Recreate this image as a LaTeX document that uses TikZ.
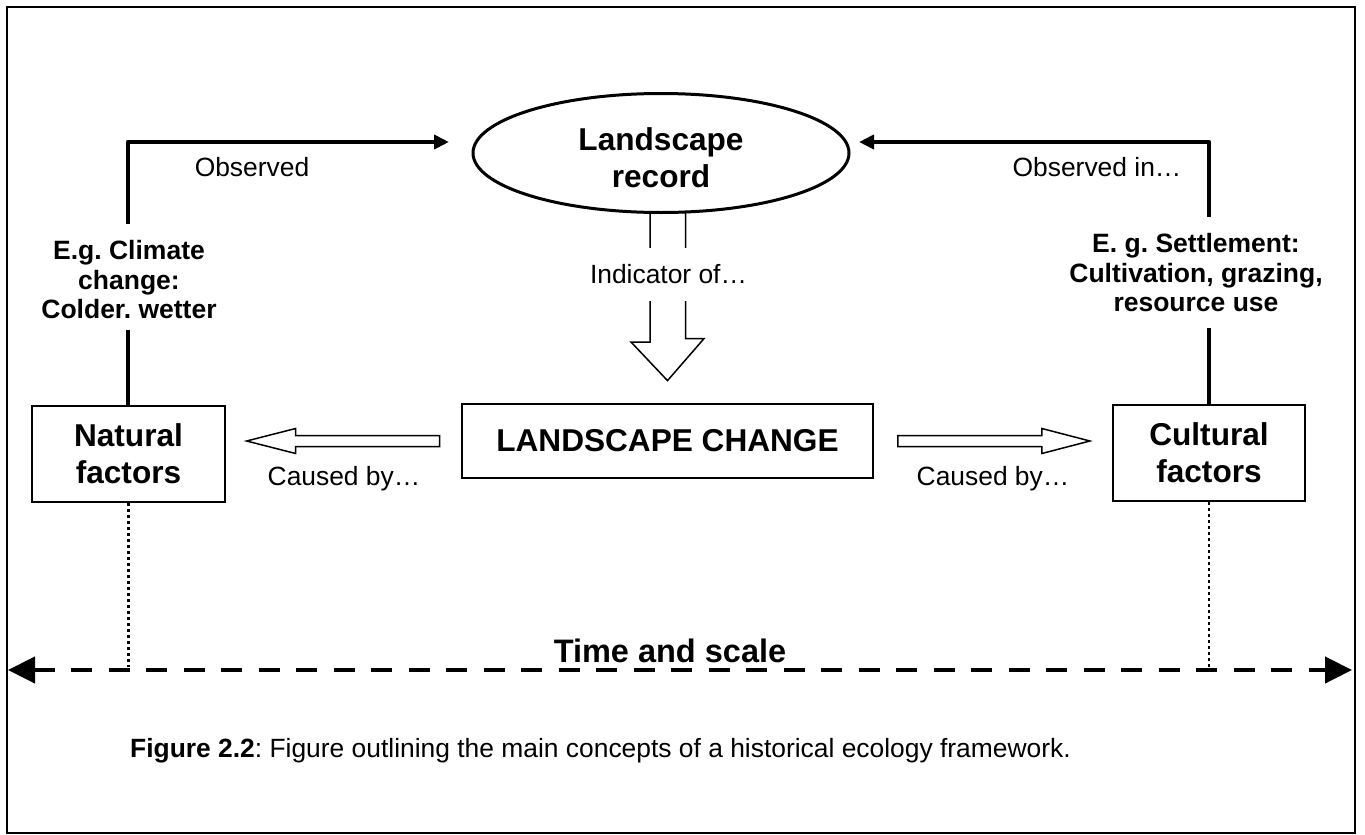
\documentclass[tikz,border=0pt]{standalone}
\usepackage{fontspec}
\setmainfont{Liberation Sans}
\usetikzlibrary{arrows.meta,shapes.geometric,calc}
\frenchspacing

% font sizes (1pt = 1 output pixel)
\newcommand\nodefont{\fontsize{31.6}{37}\selectfont\bfseries}
\newcommand\labelfont{\fontsize{26.4}{30}\selectfont}
\newcommand\examplefont{\fontsize{26.5}{29.5}\selectfont\bfseries}
\newcommand\captionfont{\fontsize{26.4}{30}\selectfont}

\begin{document}
\begin{tikzpicture}[x=1pt,y=-1pt,
  framebox/.style={draw=black,line width=2pt},
  conceptbox/.style={draw=black,line width=2pt,rectangle,inner sep=0pt,
    align=center,font=\nodefont},
  recordnode/.style={draw=black,line width=3pt,ellipse,inner sep=0pt,
    minimum width=376pt,minimum height=119pt},
  plainlabel/.style={inner sep=0pt,font=\labelfont},
  examplelabel/.style={inner sep=0pt,align=center,font=\examplefont},
  heavyline/.style={line width=4.5pt,line join=round},
  heavyarrow/.style={heavyline,-{Triangle[length=15pt,width=14pt]}},
  blockarrow/.style={draw=black,line width=1.5pt,line join=miter},
  dotline/.style={line width=2.5pt,dash pattern=on 3pt off 3pt},
  timeline/.style={line width=4.5pt,dash pattern=on 21pt off 16.5pt,
    {Triangle[length=27pt,width=26pt]}-{Triangle[length=27pt,width=26pt]}},
]
\useasboundingbox (0,0) rectangle (1365,835);

% outer frame
\draw[framebox] (7,7) rectangle (1355,833);

% main concept nodes
\node[recordnode] (rec) at (661,153) {};
\node[inner sep=0pt,align=center,font=\nodefont] (rectxt) at (661,158)
  {Landscape\\record};
\node[conceptbox,minimum width=411pt,minimum height=74pt,line width=2.8pt]
  (lc) at (667.5,441) {LANDSCAPE CHANGE};
\node[conceptbox,minimum width=193pt,minimum height=96pt]
  (nat) at (128.5,454) {Natural\\factors};
\node[conceptbox,minimum width=192pt,minimum height=96pt]
  (cul) at (1209,453) {Cultural\\factors};

% example texts on the side connectors
\node[examplelabel] (exL) at (129,280) {E.g. Climate\\change:\\Colder. wetter};
\node[examplelabel] (exR) at (1196,273) {E. g. Settlement:\\Cultivation, grazing,\\resource use};

% free ends of the observation connectors and gaps around the example texts
\coordinate (obsL) at (449,142);
\coordinate (obsR) at (859,142);
\coordinate (gapLtop) at (128,224);
\coordinate (gapLbot) at (128,330);
\coordinate (gapRtop) at (1209,217);
\coordinate (gapRbot) at (1209,328);

% natural factors -> landscape record
\draw[heavyline] (nat.north -| gapLbot) -- (gapLbot);
\draw[heavyarrow] (gapLtop) |- (obsL);
\node[plainlabel] (obsLtxt) at (252,167) {Observed};

% cultural factors -> landscape record
\draw[heavyline] (cul.north) -- (gapRbot);
\draw[heavyarrow] (gapRtop) |- (obsR);
\node[plainlabel] (obsRtxt) at (1097,167) {Observed in…};

% landscape record indicates landscape change
\draw[blockarrow]
  ($(rec.south -| lc.north)+(-17.5,0)$) -- ++(0,128) -- ++(-19,0)
  -- ($(lc.north)+(0,-22)$) -- ++(36.5,-42) -- ++(-18.5,0) -- ++(0,-128);
\node[plainlabel,fill=white,inner xsep=4pt,inner ysep=17pt] (ind)
  at (668.5,274.5) {Indicator of…};

% landscape change caused by natural factors
\draw[blockarrow,fill=white]
  ($(lc.west)+(-21,-5.5)$) -- ++(-144,0) -- ++(0,-7) -- ++(-49,12.5)
  -- ++(49,12.5) -- ++(0,-7) -- ++(144,0) -- cycle;
\node[plainlabel] (cbL) at (344,479) {Caused by…};

% landscape change caused by cultural factors
\draw[blockarrow,fill=white]
  ($(lc.east)+(23.5,-5.5)$) -- ++(144,0) -- ++(0,-7) -- ++(48,12.5)
  -- ++(-48,12.5) -- ++(0,-7) -- ++(-144,0) -- cycle;
\node[plainlabel] (cbR) at (993,479) {Caused by…};

% time and scale axis
\coordinate (tl) at (8,670);
\coordinate (tr) at (1352,670);
\draw[timeline] (tl) -- (tr);
\node[inner sep=0pt,font=\fontsize{32.5}{37}\selectfont\bfseries,anchor=base]
  (time) at (670,662) {Time and scale};
\draw[dotline] (nat.south) -- (nat.south |- 0,667);
\draw[dotline] (cul.south) -- (cul.south |- 0,667);

% caption
\node[inner sep=0pt,font=\captionfont,anchor=base west] (cap) at (130,757)
  {\textbf{Figure 2.2}: Figure outlining the main concepts of a historical ecology framework.};
\end{tikzpicture}
\end{document}
